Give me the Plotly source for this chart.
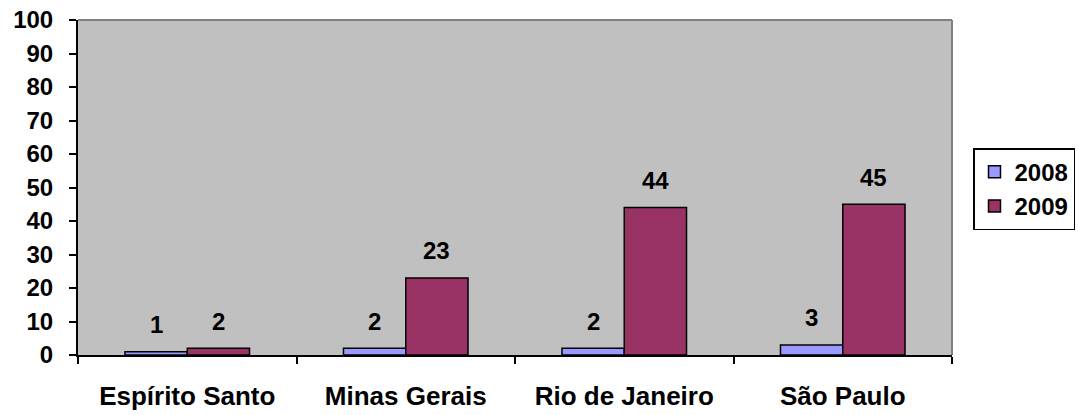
import plotly.graph_objects as go

categories = ["Espírito Santo", "Minas Gerais", "Rio de Janeiro", "São Paulo"]
series_names = ["2008", "2009"]
values_2008 = [1, 2, 2, 3]
values_2009 = [2, 23, 44, 45]
y_ticks = [0, 10, 20, 30, 40, 50, 60, 70, 80, 90, 100]

colors = {"2008": "#9999FF", "2009": "#993366"}
FONT = "Arial, 'Liberation Sans', sans-serif"

fig = go.Figure()
for name, vals in zip(series_names, [values_2008, values_2009]):
    fig.add_trace(go.Bar(
        x=categories, y=vals, name=name,
        marker=dict(color=colors[name], line=dict(color="black", width=1.5)),
    ))

annotations = []
for i, (name, vals) in enumerate(zip(series_names, [values_2008, values_2009])):
    shift = -31 if i == 0 else 31
    for c, v in zip(categories, vals):
        annotations.append(dict(
            x=c, y=v, xref="x", yref="y", text=f"<b>{v}</b>", showarrow=False,
            xshift=shift, yshift=27, yanchor="middle",
            font=dict(family=FONT, size=24, color="black"),
        ))

fig.update_layout(
    width=1078, height=415,
    margin=dict(l=78, r=126, t=20, b=60, autoexpand=False),
    paper_bgcolor="white", plot_bgcolor="#C0C0C0",
    barmode="group", bargap=0.43, bargroupgap=0,
    font=dict(family=FONT, size=24, color="black"),
    showlegend=True,
    legend=dict(
        xref="container", yref="container",
        x=0.9026, y=0.643, xanchor="left", yanchor="top",
        bordercolor="black", borderwidth=1.5, bgcolor="white",
        font=dict(family=FONT, size=24, color="black", weight="bold"),
        tracegroupgap=0, itemwidth=30,
    ),
    annotations=annotations,
    shapes=[
        dict(type="line", xref="paper", yref="paper", x0=0, x1=1, y0=1, y1=1,
             line=dict(color="#808080", width=2)),
        dict(type="line", xref="paper", yref="paper", x0=1, x1=1, y0=0, y1=1,
             line=dict(color="#808080", width=2)),
    ],
)
fig.update_xaxes(
    showline=True, linecolor="black", linewidth=2,
    ticks="outside", tickson="boundaries", ticklen=7, tickcolor="black", tickwidth=2,
    tickfont=dict(family=FONT, size=26, color="black", weight="bold"),
    ticklabelstandoff=17, showgrid=False, automargin=False,
)
fig.update_yaxes(
    range=[0, 100], tickvals=y_ticks, showline=True, linecolor="black", linewidth=2,
    ticks="outside", ticklen=7, tickcolor="black", tickwidth=2,
    tickfont=dict(family=FONT, size=24, color="black", weight="bold"),
    ticklabelstandoff=11, showgrid=False, zeroline=False,
    ticklabeloverflow="allow", automargin=False,
)

fig.write_html(
    "out.html",
    config={"displayModeBar": False},
    post_script="document.body.style.margin='0';document.body.style.overflow='hidden';",
)
